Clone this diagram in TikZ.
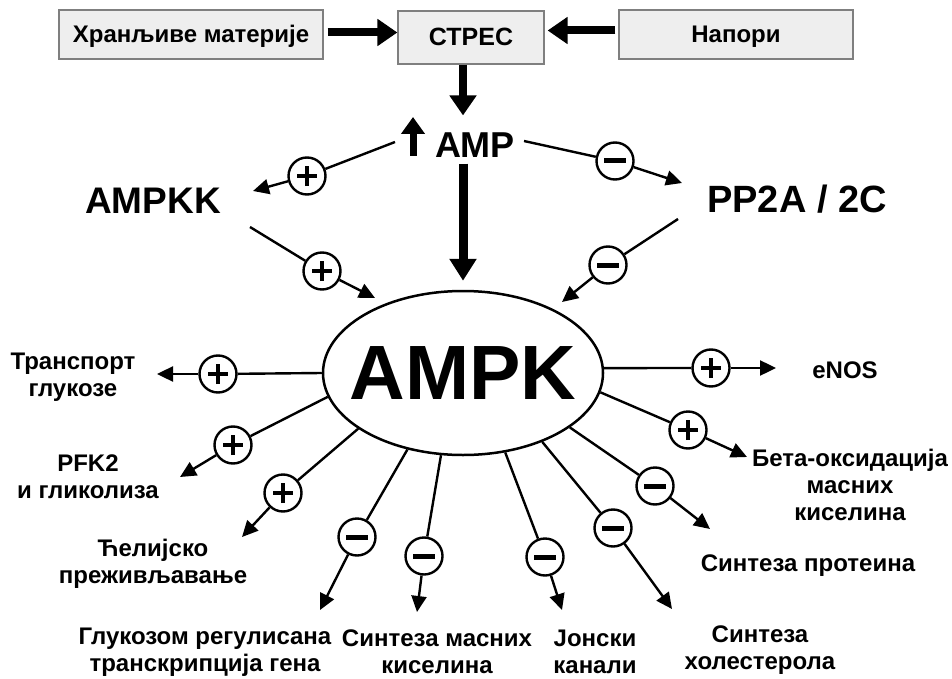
\documentclass[tikz,border=0pt]{standalone}
\usepackage{fontspec}
\setmainfont{Liberation Sans}
\usetikzlibrary{arrows.meta,shapes.geometric}
\definecolor{boxfill}{HTML}{EEEEEE}
\definecolor{boxline}{HTML}{7F7F7F}

\begin{document}
\begin{tikzpicture}[x=1pt,y=-1pt,
  box/.style={draw=boxline, fill=boxfill, line width=1.2pt, inner sep=0pt,
    text height=17pt, text depth=0pt,
    font=\fontsize{24}{28}\selectfont\bfseries},
  fat/.style={line width=8pt, -{Triangle[length=20pt,width=26pt]}},
  bigdown/.style={line width=9pt, -{Triangle[length=22pt,width=26pt]}},
  uparrow/.style={line width=7pt, -{Triangle[length=17pt,width=23pt]}},
  link/.style={line width=2.4pt},
  linkarrow/.style={line width=2.4pt, -{Triangle[length=16pt,width=15pt]}},
  sign/.style={circle, draw, line width=2.4pt, minimum size=37pt, inner sep=0pt, fill=white},
  pluscirc/.style={sign, path picture={
      \draw[line width=4.5pt]
        ([xshift=-10pt]path picture bounding box.center) -- ([xshift=10pt]path picture bounding box.center)
        ([yshift=-10pt]path picture bounding box.center) -- ([yshift=10pt]path picture bounding box.center);}},
  minuscirc/.style={sign, path picture={
      \draw[line width=5pt]
        ([xshift=-11pt]path picture bounding box.center) -- ([xshift=11pt]path picture bounding box.center);}},
  lbl/.style={align=center, inner sep=0pt, font=\fontsize{24}{27}\selectfont\bfseries},
  bigname/.style={inner sep=0pt, font=\fontsize{37}{40}\selectfont\bfseries}
]
\useasboundingbox (0,0) rectangle (952,679);

% top row: inputs into stress
\node[box, minimum width=264pt, minimum height=49pt] (food) at (191,34.5) {Хранљиве материје};
\node[box, minimum width=146pt, minimum height=53pt, font=\fontsize{25}{28}\selectfont\bfseries] (stres) at (471,37.5) {СТРЕС};
\node[box, minimum width=234pt, minimum height=49pt] (napori) at (736,34.5) {Напори};

\draw[fat, shorten <=4pt] ([yshift=2pt]food.east) -- ([yshift=2pt]food.east -| stres.west);
\draw[fat, shorten <=3pt, shorten >=3pt] ([yshift=4pt]napori.west) -- ([yshift=4pt]napori.west -| stres.east);

% AMP level
\node[inner sep=0pt, font=\fontsize{36}{40}\selectfont\bfseries] (amp) at (475,145) {AMP};
\node[bigname] (ampkk) at (153,201) {AMPKK};
\node[bigname, font=\fontsize{38}{40}\selectfont\bfseries] (pp2a) at (797,199) {PP2A / 2C};

% central kinase
\node[ellipse, draw, line width=2.5pt, minimum width=280pt, minimum height=164pt,
      inner xsep=-16pt, inner ysep=0pt,
      font=\fontsize{77}{80}\selectfont\bfseries] (ampk) at (463,373) {AMPK};

\coordinate (upb) at (413,156);
\coordinate (upt) at (413,117);
\draw[uparrow] (upb) -- (upt);

\draw[fat] (stres.south -| ampk) -- ([yshift=17pt]amp.north -| ampk);
\draw[bigdown, shorten <=6pt, shorten >=9pt] (amp.south -| ampk) -- (ampk.north);

% regulators of AMPK
\coordinate (sA) at (395,142);
\coordinate (tA) at (253,191);
\node[pluscirc] (kA) at (307,176) {};
\draw[link] (sA) -- (kA);
\draw[linkarrow] (kA) -- (tA);

\coordinate (sB) at (524,141);
\coordinate (tB) at (682,183);
\node[minuscirc] (kB) at (615,161) {};
\draw[link] (sB) -- (kB);
\draw[linkarrow] (kB) -- (tB);

\coordinate (sC) at (250,227);
\coordinate (tC) at (375,298);
\node[pluscirc] (kC) at (322,271) {};
\draw[link] (sC) -- (kC);
\draw[linkarrow] (kC) -- (tC);

\coordinate (sD) at (678,219);
\coordinate (tD) at (562,302);
\node[minuscirc] (kD) at (608,265) {};
\draw[link] (sD) -- (kD);
\draw[linkarrow] (kD) -- (tD);

% downstream targets
\node[pluscirc] (o1) at (218,374) {};
\coordinate (t1) at (157,374);
\draw[link] (ampk.180) -- (o1);
\draw[linkarrow] (o1) -- (t1);

\node[pluscirc] (o2) at (233,445) {};
\coordinate (t2) at (180,477);
\draw[link] (ampk.190) -- (o2);
\draw[linkarrow] (o2) -- (t2);

\node[pluscirc] (o3) at (283,493) {};
\coordinate (t3) at (242,537);
\draw[link] (ampk.208) -- (o3);
\draw[linkarrow] (o3) -- (t3);

\node[minuscirc] (o4) at (357,537) {};
\coordinate (t4) at (320,610);
\draw[link] (ampk.234) -- (o4);
\draw[linkarrow] (o4) -- (t4);

\node[minuscirc] (o5) at (424,556) {};
\coordinate (t5) at (417,612);
\draw[link] (ampk.255) -- (o5);
\draw[linkarrow] (o5) -- (t5);

\node[minuscirc] (o6) at (545,557) {};
\coordinate (t6) at (562,610);
\draw[link] (ampk.298) -- (o6);
\draw[linkarrow] (o6) -- (t6);

\node[minuscirc] (o7) at (613,528) {};
\coordinate (t7) at (672,609);
\draw[link] (ampk.319) -- (o7);
\draw[linkarrow] (o7) -- (t7);

\node[minuscirc] (o8) at (655,486) {};
\coordinate (t8) at (710,529);
\draw[link] (ampk.333) -- (o8);
\draw[linkarrow] (o8) -- (t8);

\node[pluscirc] (o9) at (688,430) {};
\coordinate (t9) at (747,457);
\draw[link] (ampk.352) -- (o9);
\draw[linkarrow] (o9) -- (t9);

\node[pluscirc] (o10) at (711,368) {};
\coordinate (t10) at (776,368);
\draw[link] (ampk.2) -- (o10);
\draw[linkarrow] (o10) -- (t10);

% target labels
\node[lbl] (l1) at (73,377) {Транспорт\\глукозе};
\node[lbl] (l2) at (88,477) {PFK2\\и гликолиза};
\node[lbl] (l3) at (153,564) {Ћелијско\\преживљавање};
\node[lbl] (l4) at (205,652) {Глукозом регулисана\\транскрипција гена};
\node[lbl] (l5) at (437,652) {Синтеза масних\\киселина};
\node[lbl] (l6) at (595,652) {Јонски\\канали};
\node[lbl] (l7) at (760,650) {Синтеза\\холестерола};
\node[lbl] (l8) at (808,566) {Синтеза протеина};
\node[lbl] (l9) at (850,485) {Бета-оксидација\\масних\\киселина};
\node[lbl] (l10) at (845,370) {eNOS};
\end{tikzpicture}
\end{document}
